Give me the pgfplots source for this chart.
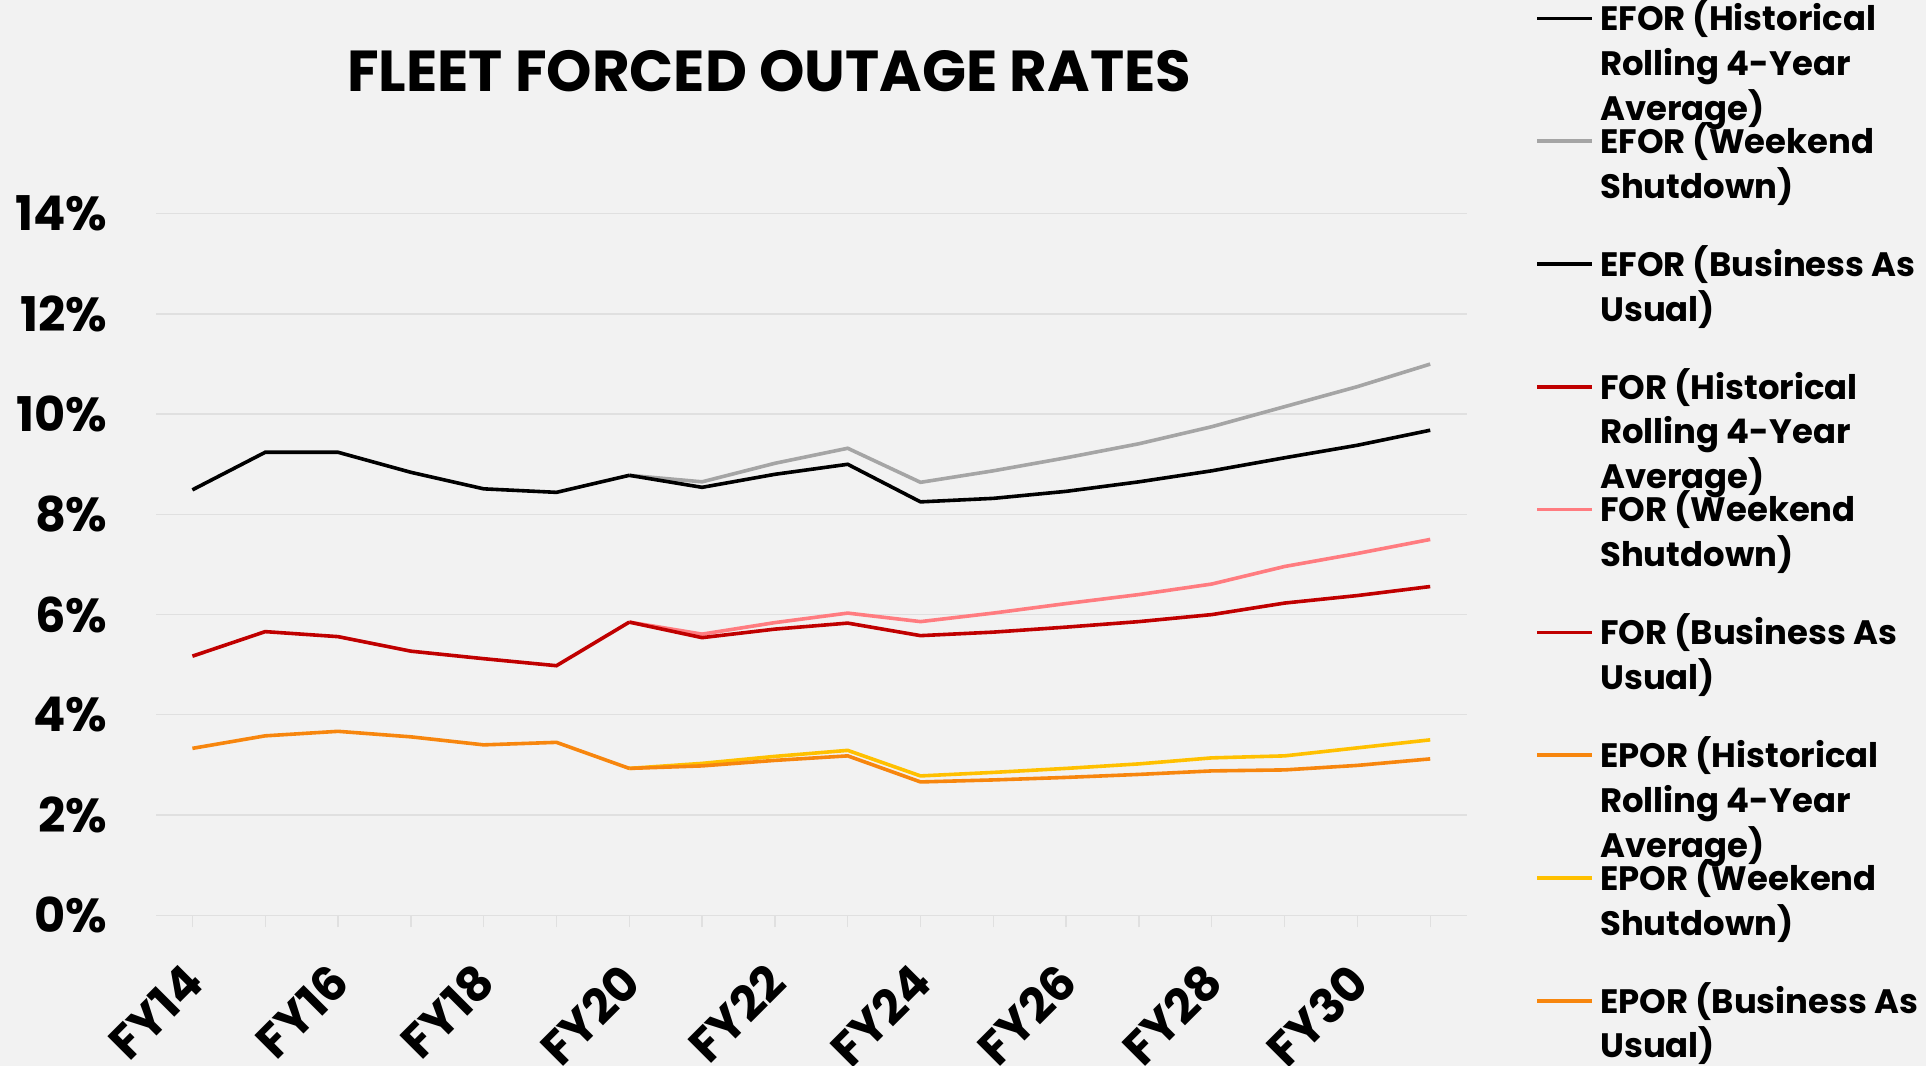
\documentclass[border=0pt]{standalone}
\usepackage{fontspec}
\setmainfont{Poppins}
\usepackage{pgfplots}
\pgfplotsset{compat=1.18}
\definecolor{bg}{HTML}{F2F2F2}
\definecolor{gridc}{HTML}{E0E0E0}
\definecolor{cgray}{HTML}{A5A5A5}
\definecolor{cred}{HTML}{C00000}
\definecolor{cpink}{HTML}{FF7C80}
\definecolor{corange}{HTML}{F7860E}
\definecolor{cyellow}{HTML}{FFC000}
\newcommand{\legtxt}[1]{\smash{\parbox[t]{200bp}{\baselineskip=22.4bp #1}}}
\begin{document}
\begin{tikzpicture}
\useasboundingbox (0,0) rectangle (963bp,533bp);
\fill[bg] (0,0) rectangle (963bp,533bp);
\node[font=\fontsize{29}{34}\selectfont\bfseries] at (384.5bp,497.4bp) {FLEET FORCED OUTAGE RATES};
\begin{axis}[
  at={(78bp,75.4bp)}, anchor=south west,
  width=655.3bp, height=350.7bp, scale only axis,
  xmin=-0.5, xmax=17.5, ymin=0, ymax=14,
  axis line style={draw=none},
  ymajorgrids, grid style={gridc, line width=0.7bp},
  xtick={0,...,17},
  xticklabels={FY14,,FY16,,FY18,,FY20,,FY22,,FY24,,FY26,,FY28,,FY30,},
  ytick={0,2,...,14},
  yticklabels={0\%,2\%,4\%,6\%,8\%,10\%,12\%,14\%},
  tick align=outside, major tick length=6bp,
  xtick pos=bottom, ytick pos=left,
  x tick style={draw=gridc, line width=0.7bp},
  y tick style={draw=none},
  xticklabel style={font=\fontsize{24}{28}\selectfont\bfseries, inner sep=0pt, xshift=1bp, yshift=-23bp, rotate=45, anchor=east},
  yticklabel style={font=\fontsize{24}{28}\selectfont\bfseries, inner sep=0pt, xshift=-18bp},
  no markers,
  every axis plot/.append style={line width=1.8bp},
  legend image code/.code={\draw[#1] (0bp,6.2bp) -- (27.6bp,6.2bp);},
  legend style={at={(1.0525,1.3037)}, anchor=north west, draw=none, fill=none,
    inner sep=0pt, outer sep=0pt, row sep=0pt, column sep=3bp,
    nodes={inner sep=0pt, text height=15bp, text depth=46.4bp, font=\fontsize{17}{22}\selectfont\bfseries},
    cells={anchor=base west}},
]
\addplot[black] coordinates {(0,8.49) (1,9.24) (2,9.24) (3,8.84) (4,8.51) (5,8.44) (6,8.78)};
\addlegendentry{\legtxt{EFOR (Historical\\Rolling 4-Year\\Average)}}
\addplot[cgray] coordinates {(6,8.78) (7,8.65) (8,9.02) (9,9.32) (10,8.64) (11,8.87) (12,9.13) (13,9.41) (14,9.75) (15,10.15) (16,10.55) (17,11.0)};
\addlegendentry{\legtxt{EFOR (Weekend\\Shutdown)}}
\addplot[black] coordinates {(6,8.78) (7,8.54) (8,8.80) (9,9.00) (10,8.25) (11,8.32) (12,8.46) (13,8.65) (14,8.87) (15,9.13) (16,9.38) (17,9.68)};
\addlegendentry{\legtxt{EFOR (Business As\\Usual)}}
\addplot[cred] coordinates {(0,5.17) (1,5.66) (2,5.56) (3,5.27) (4,5.12) (5,4.98) (6,5.85)};
\addlegendentry{\legtxt{FOR (Historical\\Rolling 4-Year\\Average)}}
\addplot[cpink] coordinates {(6,5.85) (7,5.61) (8,5.84) (9,6.03) (10,5.86) (11,6.03) (12,6.22) (13,6.40) (14,6.61) (15,6.96) (16,7.22) (17,7.50)};
\addlegendentry{\legtxt{FOR (Weekend\\Shutdown)}}
\addplot[cred] coordinates {(6,5.85) (7,5.54) (8,5.71) (9,5.83) (10,5.58) (11,5.65) (12,5.75) (13,5.86) (14,6.00) (15,6.23) (16,6.38) (17,6.56)};
\addlegendentry{\legtxt{FOR (Business As\\Usual)}}
\addplot[corange] coordinates {(0,3.33) (1,3.58) (2,3.67) (3,3.56) (4,3.40) (5,3.45) (6,2.93)};
\addlegendentry{\legtxt{EPOR (Historical\\Rolling 4-Year\\Average)}}
\addplot[cyellow] coordinates {(6,2.93) (7,3.03) (8,3.17) (9,3.29) (10,2.78) (11,2.85) (12,2.93) (13,3.02) (14,3.14) (15,3.18) (16,3.34) (17,3.50)};
\addlegendentry{\legtxt{EPOR (Weekend\\Shutdown)}}
\addplot[corange] coordinates {(6,2.93) (7,2.98) (8,3.09) (9,3.18) (10,2.66) (11,2.70) (12,2.75) (13,2.81) (14,2.88) (15,2.90) (16,2.99) (17,3.12)};
\addlegendentry{\legtxt{EPOR (Business As\\Usual)}}
\end{axis}
\end{tikzpicture}
\end{document}
